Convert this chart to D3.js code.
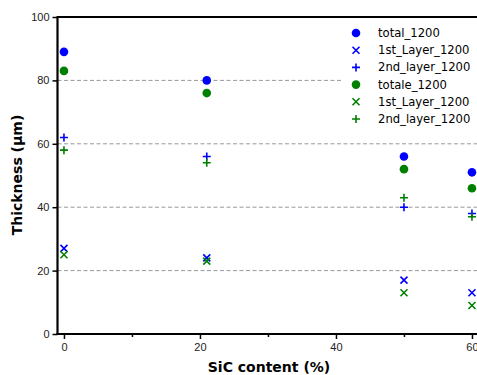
<!DOCTYPE html>
<html><head><meta charset="utf-8">
<script src="https://cdn.jsdelivr.net/npm/d3@7"></script>
<style>body{margin:0;background:#fff}svg{display:block}</style>
</head><body>
<script>
const sic = [0, 21, 50, 60];
const total1200 = [89, 80, 56, 51];
const firstLayer1200 = [27, 24, 17, 13];
const secondLayer1200 = [62, 56, 40, 38];
const totale1200 = [83, 76, 52, 46];
const firstLayer1200b = [25, 23, 13, 9];
const secondLayer1200b = [58, 54, 43, 37];
const seriesNames = ["total_1200","1st_Layer_1200","2nd_layer_1200","totale_1200","1st_Layer_1200","2nd_layer_1200"];
const xTicks = [0, 20, 40, 60];
const xMinor = [10, 30, 50];
const yTicks = [0, 20, 40, 60, 80, 100];
const gridTicks = [20, 40, 60, 80];

const series = [
  {name: seriesNames[0], vals: total1200, color: "#0000ff", shape: "circle"},
  {name: seriesNames[1], vals: firstLayer1200, color: "#0000ff", shape: "x"},
  {name: seriesNames[2], vals: secondLayer1200, color: "#0000ff", shape: "plus"},
  {name: seriesNames[3], vals: totale1200, color: "#008000", shape: "circle"},
  {name: seriesNames[4], vals: firstLayer1200b, color: "#008000", shape: "x"},
  {name: seriesNames[5], vals: secondLayer1200b, color: "#008000", shape: "plus"}
];

const W = 477, H = 375;
const svg = d3.select("body").append("svg").attr("width", W).attr("height", H);
const mLeft = 57.5, mTop = 17, mBottom = 334;
const x = d3.scaleLinear().domain([-0.95, 62]).range([mLeft, mLeft + 62.95 * 6.8]);
const y = d3.scaleLinear().domain([0, 100]).range([mBottom, mTop]);

// grid
svg.append("g").selectAll("line").data(gridTicks).join("line")
  .attr("x1", mLeft).attr("x2", W).attr("y1", d => y(d)).attr("y2", d => y(d))
  .attr("stroke", "#999999").attr("stroke-width", 1).attr("stroke-dasharray", "4,2.5");

function drawMarker(g, shape, color, cx, cy) {
  if (shape === "circle") {
    g.append("circle").attr("cx", cx).attr("cy", cy).attr("r", 4.3).attr("fill", color);
  } else if (shape === "x") {
    const s = 3.5;
    g.append("path").attr("d", `M${cx-s},${cy-s}L${cx+s},${cy+s}M${cx-s},${cy+s}L${cx+s},${cy-s}`)
      .attr("stroke", color).attr("stroke-width", 1.6).attr("fill", "none");
  } else {
    const s = 4;
    g.append("path").attr("d", `M${cx-s},${cy}L${cx+s},${cy}M${cx},${cy-s}L${cx},${cy+s}`)
      .attr("stroke", color).attr("stroke-width", 1.6).attr("fill", "none");
  }
}

const pts = svg.append("g");
series.forEach(s => {
  s.vals.forEach((v, i) => drawMarker(pts, s.shape, s.color, x(sic[i]), y(v)));
});

// legend
const lg = svg.append("g");
lg.append("rect").attr("x", 341).attr("y", 22).attr("width", 140).attr("height", 108).attr("fill", "#fff");
series.forEach((s, i) => {
  const ly = 33 + i * 17.2;
  drawMarker(lg, s.shape, s.color, 356, ly);
  lg.append("text").attr("x", 378).attr("y", ly + 4).text(s.name)
    .attr("font-family", "DejaVu Sans").attr("font-size", 11.6).attr("fill", "#000");
});

// axes
const yAxis = d3.axisLeft(y).tickValues(yTicks).tickSize(5).tickPadding(3);
const gy = svg.append("g").attr("transform", `translate(${mLeft},0)`).call(yAxis);
const xAxis = d3.axisBottom(x).tickValues(xTicks).tickSize(5).tickPadding(4);
const gx = svg.append("g").attr("transform", `translate(0,${mBottom})`).call(xAxis);
const xAxisMinor = d3.axisBottom(x).tickValues(xMinor).tickSize(3).tickFormat("");
const gxm = svg.append("g").attr("transform", `translate(0,${mBottom})`).call(xAxisMinor);
gxm.select(".domain").remove();
[gy, gx].forEach(g => {
  g.select(".domain").remove();
  g.selectAll("text").attr("font-family", "Liberation Sans, Arial").attr("font-size", 11).attr("fill", "#222");
});
svg.selectAll(".tick line").attr("stroke", "#000").attr("stroke-width", 1.5);

// spines
svg.append("line").attr("x1", mLeft).attr("x2", mLeft).attr("y1", mTop).attr("y2", mBottom + 1)
  .attr("stroke", "#000").attr("stroke-width", 2.2);
svg.append("line").attr("x1", mLeft - 1).attr("x2", W).attr("y1", mBottom).attr("y2", mBottom)
  .attr("stroke", "#000").attr("stroke-width", 2.2);
svg.append("line").attr("x1", mLeft - 1).attr("x2", W).attr("y1", mTop).attr("y2", mTop)
  .attr("stroke", "#000").attr("stroke-width", 2.2);

// labels
svg.append("text").attr("x", 269).attr("y", 372).attr("text-anchor", "middle")
  .attr("font-family", "DejaVu Sans").attr("font-weight", "bold").attr("font-size", 14).text("SiC content (%)");
svg.append("text").attr("transform", `translate(22,175) rotate(-90)`).attr("text-anchor", "middle")
  .attr("font-family", "DejaVu Sans").attr("font-weight", "bold").attr("font-size", 14).text("Thickness (µm)");
</script>
</body></html>
